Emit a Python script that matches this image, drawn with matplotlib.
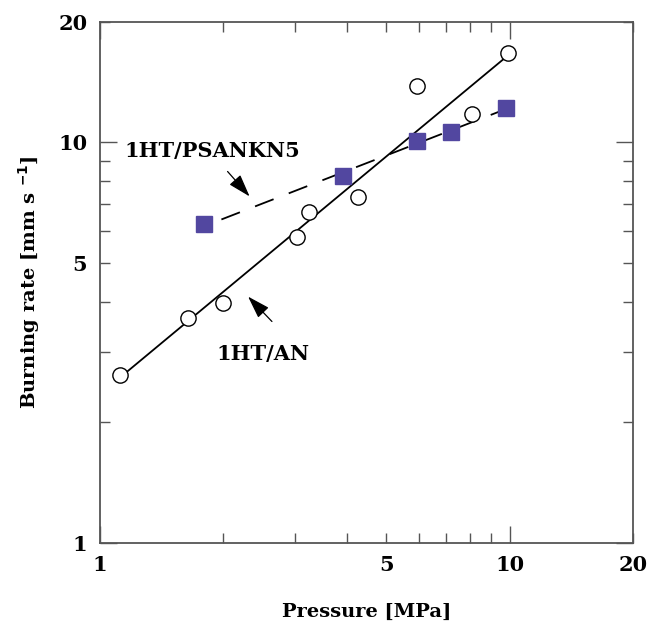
import numpy as np
import matplotlib
matplotlib.use("Agg")
import matplotlib.pyplot as plt
from matplotlib.ticker import FixedLocator, FuncFormatter

# Data
p_an = [1.12, 1.64, 2.0, 3.02, 3.23, 4.26, 5.93, 8.08, 9.89]
r_an = [2.62, 3.65, 3.98, 5.79, 6.72, 7.29, 13.8, 11.8, 16.7]
p_ps = [1.80, 3.91, 5.93, 7.18, 9.78]
r_ps = [6.24, 8.22, 10.1, 10.6, 12.2]

x_ticklabels = [1, 5, 10, 20]
y_ticklabels = [1, 5, 10, 20]

plt.rcParams['font.family'] = ['DejaVu Serif']

fig = plt.figure(figsize=(6.48, 6.26), dpi=100)
ax = fig.add_axes([0.154, 0.133, 0.823, 0.832])
ax.set_xscale('log')
ax.set_yscale('log')
ax.set_xlim(1, 20)
ax.set_ylim(1, 20)

# Power-law fits
def fit(p, r):
    n, loga = np.polyfit(np.log10(p), np.log10(r), 1)
    return n, loga

n1, a1 = fit(p_an, r_an)
xs = np.array([min(p_an), max(p_an)])
ax.plot(xs, 10**(a1 + n1*np.log10(xs)), color='black', lw=1.3, zorder=2)
n2, a2 = fit(p_ps, r_ps)
xs2 = np.array([min(p_ps)*1.10, max(p_ps)])
ax.plot(xs2, 10**(a2 + n2*np.log10(xs2)), color='black', lw=1.3, ls=(0, (11, 9)), zorder=2)

ax.plot(p_an, r_an, 'o', ms=11, mfc='white', mec='black', mew=1.0, zorder=3, ls='none')
ax.plot(p_ps, r_ps, 's', ms=11, mfc='#5247a0', mec='#5247a0', zorder=3, ls='none')

spine_col = '#555555'
for s in ax.spines.values():
    s.set_color(spine_col)
    s.set_linewidth(1.3)

for axis in (ax.xaxis, ax.yaxis):
    axis.set_major_locator(FixedLocator([1, 10]))
    axis.set_minor_locator(FixedLocator([2, 3, 4, 5, 6, 7, 8, 9, 20]))

xf = FuncFormatter(lambda v, pos: f"{int(round(v))}" if int(round(v)) in x_ticklabels else "")
yf = FuncFormatter(lambda v, pos: f"{int(round(v))}" if int(round(v)) in y_ticklabels else "")
ax.xaxis.set_major_formatter(xf)
ax.xaxis.set_minor_formatter(xf)
ax.yaxis.set_major_formatter(yf)
ax.yaxis.set_minor_formatter(yf)

ax.tick_params(which='both', direction='in', top=True, right=True, color=spine_col,
               labelsize=15, width=1.0)
ax.tick_params(which='major', length=12)
ax.tick_params(which='minor', length=7)
ax.tick_params(axis='x', which='both', pad=9)
ax.tick_params(axis='y', which='both', pad=9)
for lab in ax.get_xticklabels(which='both') + ax.get_yticklabels(which='both'):
    lab.set_fontweight('bold')

ax.set_xlabel('Pressure [MPa]', fontsize=14, fontweight='bold', labelpad=20)
ax.set_ylabel('Burning rate [mm s $^{\\mathbf{-1}}$]', fontsize=14, fontweight='bold', labelpad=12)

arrow_kw = dict(arrowstyle='-|>,head_length=1.4,head_width=0.45', color='black', lw=0.9,
                shrinkA=0, shrinkB=0)
ax.annotate('', xy=(2.32, 7.33), xytext=(2.05, 8.46), arrowprops=arrow_kw)
ax.text(1.886, 9.0, '1HT/PSANKN5', fontsize=15, fontweight='bold', ha='center', va='bottom')
ax.annotate('', xy=(2.30, 4.12), xytext=(2.63, 3.57), arrowprops=arrow_kw)
ax.text(2.50, 3.14, '1HT/AN', fontsize=15, fontweight='bold', ha='center', va='top')

fig.savefig('out.png', dpi=100)
